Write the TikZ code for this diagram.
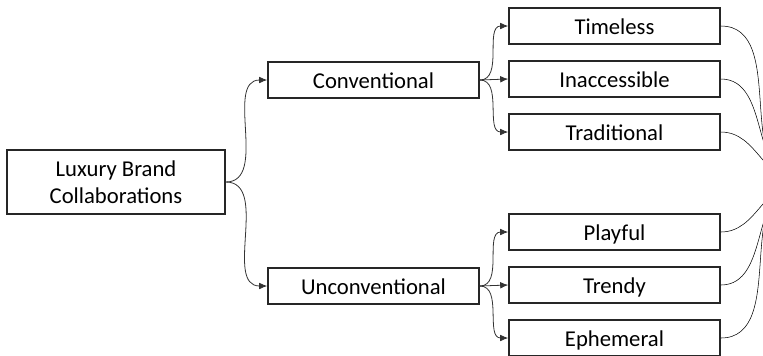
\documentclass[tikz,border=0pt]{standalone}
\usepackage{fontspec}
\setmainfont{Carlito}
\usetikzlibrary{arrows.meta,scopes}

\begin{document}
\begin{tikzpicture}[x=0.75pt,y=-0.75pt,
    box/.style={rectangle,draw=black!85,line width=1.2pt,minimum width=158.25pt,minimum height=27pt,inner sep=0pt,text height=13.6pt,text depth=1.2pt,font=\fontsize{17}{20}\selectfont},
    root/.style={box,minimum width=163.5pt,minimum height=48pt,align=center,text height=,text depth=},
    link/.style={draw=black!80,line width=0.6pt,-{Latex[length=6pt,width=5pt]}},
    tie/.style={draw=black!75,line width=0.6pt},]
\clip (0,0) rectangle (763,355);
\node[root] (brand) at (116,182) {Luxury Brand\\Collaborations};
\node[box] (conv) at (373.5,80) {Conventional};
\node[box] (unconv) at (373.5,286) {Unconventional};
\node[box] (timeless) at (614.5,26) {Timeless};
\node[box] (inacc) at (614.5,79) {Inaccessible};
\node[box] (trad) at (614.5,132) {Traditional};
\node[box] (playful) at (614.5,232) {Playful};
\node[box] (trendy) at (614.5,285) {Trendy};
\node[box] (ephem) at (614.5,338) {Ephemeral};
\coordinate (hub) at (800,182);
    {[link]
        \draw (brand.east) to[out=0,in=180] (conv.west);
        \draw (brand.east) to[out=0,in=180] (unconv.west);
        \draw (conv.east) to[out=0,in=180] (timeless.west);
        \draw (conv.east) -- (inacc.west);
        \draw (conv.east) to[out=0,in=180] (trad.west);
        \draw (unconv.east) to[out=0,in=180] (playful.west);
        \draw (unconv.east) -- (trendy.west);
        \draw (unconv.east) to[out=0,in=180] (ephem.west);
    };
    {[tie]
        \draw (timeless.east) to[out=0,in=180] (hub);
        \draw (inacc.east) to[out=0,in=180] (hub);
        \draw (trad.east) to[out=0,in=180] (hub);
        \draw (playful.east) to[out=0,in=180] (hub);
        \draw (trendy.east) to[out=0,in=180] (hub);
        \draw (ephem.east) to[out=0,in=180] (hub);
    };
\end{tikzpicture}
\end{document}
